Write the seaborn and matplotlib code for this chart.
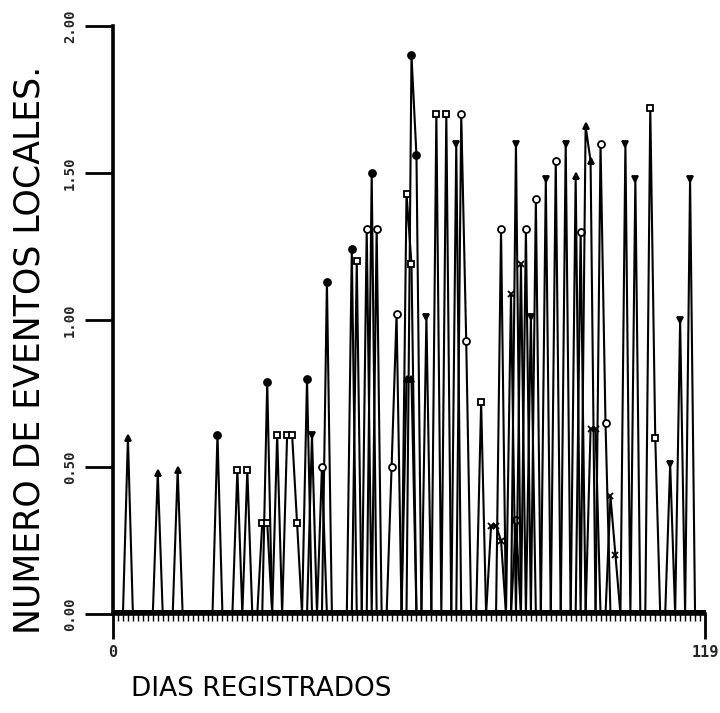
import numpy as np
import pandas as pd
import matplotlib
matplotlib.use("Agg")
import matplotlib.pyplot as plt
import seaborn as sns

# Daily local-event counts, one series per station (days without events are 0)
n_days = 120
days = np.arange(n_days)

filled_days = [21, 31, 39, 43, 48, 52, 60, 61]
filled_vals = [0.61, 0.79, 0.80, 1.13, 1.24, 1.50, 1.90, 1.56]

open_days = [42, 51, 53, 56, 57, 70, 71, 78, 81, 83, 85, 89, 94, 98, 99]
open_vals = [0.50, 1.31, 1.31, 0.50, 1.02, 1.70, 0.93, 1.31, 0.32, 1.31, 1.41, 1.54, 1.30, 1.60, 0.65]

square_days = [25, 27, 30, 31, 33, 35, 36, 37, 49, 59, 60, 65, 67, 74, 108, 109]
square_vals = [0.49, 0.49, 0.31, 0.31, 0.61, 0.61, 0.61, 0.31, 1.20, 1.43, 1.19, 1.70, 1.70, 0.72, 1.72, 0.60]

up_days = [3, 9, 13, 59, 60, 93, 95, 96]
up_vals = [0.60, 0.48, 0.49, 0.80, 0.80, 1.49, 1.66, 1.54]

down_days = [40, 63, 69, 81, 84, 87, 91, 103, 105, 112, 114, 116]
down_vals = [0.61, 1.01, 1.60, 1.60, 1.01, 1.48, 1.60, 1.60, 1.48, 0.51, 1.00, 1.48]

cross_days = [76, 77, 78, 80, 82, 96, 97, 100, 101]
cross_vals = [0.30, 0.30, 0.25, 1.09, 1.19, 0.63, 0.63, 0.40, 0.20]

series = [
    ("filled", filled_days, filled_vals, "o", "black"),
    ("open", open_days, open_vals, "o", "white"),
    ("square", square_days, square_vals, "s", "white"),
    ("up", up_days, up_vals, "^", "black"),
    ("down", down_days, down_vals, "v", "black"),
    ("cross", cross_days, cross_vals, "x", "black"),
]

frames = []
for name, d, v, _, _ in series:
    y = np.zeros(n_days)
    y[np.array(d)] = v
    frames.append(pd.DataFrame({"dia": days, "eventos": y, "serie": name}))
df = pd.concat(frames, ignore_index=True)

sns.set_style("white")
plt.rcParams["font.family"] = ["DejaVu Sans"]

fig = plt.figure(figsize=(7.2, 7.13), dpi=100)
ax = fig.add_axes([113 / 720, 1 - 614 / 713, 592 / 720, 588 / 713])

for name, _, _, mk, fc in series:
    sub = df[df["serie"] == name]
    sns.lineplot(data=sub, x="dia", y="eventos", ax=ax, color="black",
                 linewidth=1.5, marker=mk, markersize=5,
                 markerfacecolor=fc, markeredgecolor="black",
                 markeredgewidth=1.3, estimator=None, sort=True)

ax.set_xlim(0, 119)
ax.set_ylim(0, 2.0)

for s in ["top", "right"]:
    ax.spines[s].set_visible(False)
for s in ["left", "bottom"]:
    ax.spines[s].set_linewidth(2.6)
    ax.spines[s].set_color("black")

ax.set_yticks([0, 0.5, 1.0, 1.5, 2.0])
ax.set_yticklabels(["0.00", "0.50", "1.00", "1.50", "2.00"], rotation=90,
                   va="center", fontsize=10, family="DejaVu Sans Mono",
                   fontweight="bold")
ax.tick_params(axis="y", left=True, direction="out", length=20, width=2,
               pad=6, color="black")

ax.set_xticks([0, 119])
ax.set_xticklabels(["0", "119"], fontsize=11, family="DejaVu Sans Mono",
                   fontweight="bold")
ax.set_xticks(np.arange(0, 120), minor=True)
ax.tick_params(axis="x", which="major", bottom=True, direction="out",
               length=18, width=2, pad=4, color="black")
ax.tick_params(axis="x", which="minor", bottom=True, direction="out",
               length=5, width=1, color="black")

ax.set_ylabel("NUMERO DE EVENTOS LOCALES.", fontsize=25, family="DejaVu Sans",
              color="black")
ax.yaxis.set_label_coords(-0.113, 0.45)
ax.set_xlabel("DIAS REGISTRADOS", fontsize=19, family="DejaVu Sans",
              ha="left", color="black")
ax.xaxis.set_label_coords(0.03, -0.105)

if ax.get_legend() is not None:
    ax.get_legend().remove()

fig.savefig("out.png", dpi=100, facecolor="white")
